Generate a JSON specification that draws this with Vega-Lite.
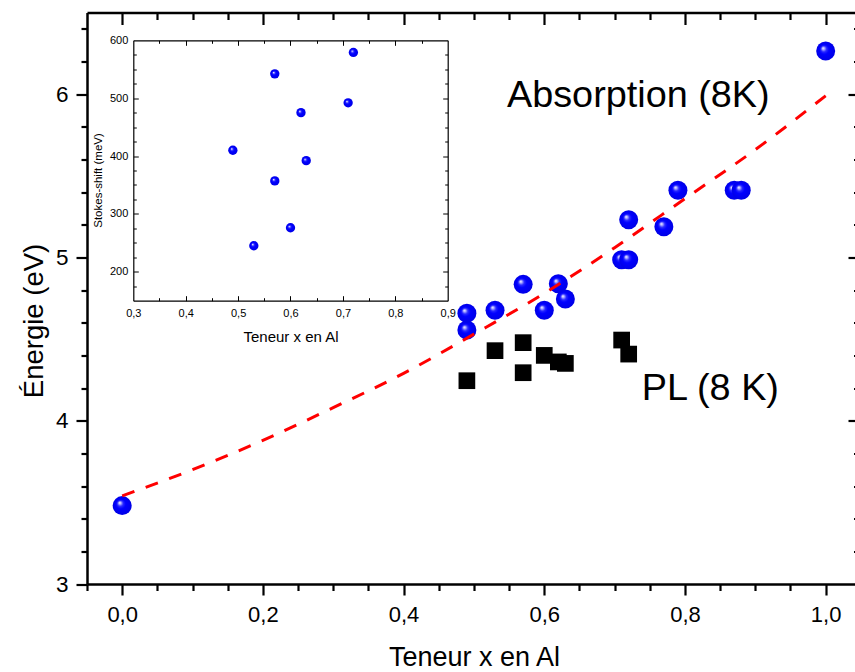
{
  "$schema": "https://vega.github.io/schema/vega-lite/v6.json",
  "width": 768,
  "height": 571.5,
  "autosize": {"type": "none"},
  "padding": {"left": 87, "top": 12.5, "right": 0, "bottom": 88},
  "background": "white",
  "config": {
    "view": {"stroke": null},
    "font": "Liberation Sans",
    "axis": {"grid": false, "labelColor": "black", "titleColor": "black", "titleFontWeight": "normal", "domainColor": "black", "tickColor": "black", "labelFont": "Liberation Sans", "titleFont": "Liberation Sans", "labelFlush": false, "labelOverlap": false},
    "text": {"font": "Liberation Sans"}
  },
  "datasets": {
    "curve": [
      {"x": 0, "E": 3.54}, {"x": 0.1, "E": 3.70}, {"x": 0.2, "E": 3.88}, {"x": 0.3, "E": 4.08},
      {"x": 0.4, "E": 4.29}, {"x": 0.5, "E": 4.53}, {"x": 0.6, "E": 4.78}, {"x": 0.7, "E": 5.06},
      {"x": 0.8, "E": 5.36}, {"x": 0.9, "E": 5.66}, {"x": 1.0, "E": 5.99}
    ],
    "absorption": [
      {"x": 0, "E": 3.48}, {"x": 0.49, "E": 4.555}, {"x": 0.49, "E": 4.658}, {"x": 0.53, "E": 4.676},
      {"x": 0.57, "E": 4.835}, {"x": 0.6, "E": 4.676}, {"x": 0.62, "E": 4.839}, {"x": 0.63, "E": 4.745},
      {"x": 0.71, "E": 4.986}, {"x": 0.72, "E": 4.986}, {"x": 0.72, "E": 5.231}, {"x": 0.77, "E": 5.188},
      {"x": 0.79, "E": 5.411}, {"x": 0.87, "E": 5.411}, {"x": 0.88, "E": 5.411}, {"x": 1.0, "E": 6.264}
    ],
    "pl": [
      {"x": 0.49, "E": 4.245}, {"x": 0.53, "E": 4.429}, {"x": 0.57, "E": 4.478}, {"x": 0.57, "E": 4.294},
      {"x": 0.6, "E": 4.40}, {"x": 0.62, "E": 4.36}, {"x": 0.63, "E": 4.351}, {"x": 0.71, "E": 4.494},
      {"x": 0.72, "E": 4.408}
    ],
    "stokes": [
      {"x": 0.49, "shift": 410}, {"x": 0.53, "shift": 245}, {"x": 0.57, "shift": 542}, {"x": 0.57, "shift": 357},
      {"x": 0.6, "shift": 276}, {"x": 0.62, "shift": 475}, {"x": 0.63, "shift": 392}, {"x": 0.71, "shift": 492},
      {"x": 0.72, "shift": 579}
    ],
    "annotations": [
      {"x": 0.547, "E": 5.92, "label": "Absorption (8K)"},
      {"x": 0.7385, "E": 4.127, "label": "PL (8 K)"}
    ]
  },
  "layer": [
    {
      "layer": [
        {
          "data": {"name": "absorption"},
          "mark": {"type": "point", "shape": "circle", "filled": true, "size": 361, "opacity": 1, "strokeWidth": 0,
            "fill": {"gradient": "radial", "x1": 0.36, "y1": 0.34, "r1": 0, "x2": 0.5, "y2": 0.5, "r2": 0.5,
              "stops": [{"offset": 0, "color": "#ffffff"}, {"offset": 0.12, "color": "#b8b8ff"}, {"offset": 0.3, "color": "#2a2aff"}, {"offset": 0.5, "color": "#0000ff"}, {"offset": 1, "color": "#0000e6"}]}},
          "encoding": {
            "x": {"field": "x", "type": "quantitative", "scale": {"domain": [-0.05, 1.0417], "nice": false, "zero": false}, "axis": null},
            "y": {"field": "E", "type": "quantitative", "scale": {"domain": [3, 6.5], "nice": false, "zero": false}, "axis": null}
          }
        },
        {
          "data": {"name": "pl"},
          "mark": {"type": "square", "size": 279, "color": "black", "opacity": 1},
          "encoding": {
            "x": {"field": "x", "type": "quantitative", "scale": {"domain": [-0.05, 1.0417], "nice": false, "zero": false}, "axis": null},
            "y": {"field": "E", "type": "quantitative", "scale": {"domain": [3, 6.5], "nice": false, "zero": false}, "axis": null}
          }
        },
        {
          "data": {"name": "curve"},
          "mark": {"type": "line", "color": "#ff0000", "strokeWidth": 3, "strokeDash": [13, 12], "interpolate": "monotone"},
          "encoding": {
            "x": {"field": "x", "type": "quantitative", "scale": {"domain": [-0.05, 1.0417], "nice": false, "zero": false}, "axis": null},
            "y": {"field": "E", "type": "quantitative", "scale": {"domain": [3, 6.5], "nice": false, "zero": false}, "axis": null}
          }
        },
        {
          "data": {"name": "annotations"},
          "mark": {"type": "text", "fontSize": 37.8, "color": "black", "align": "left", "baseline": "alphabetic"},
          "encoding": {
            "x": {"field": "x", "type": "quantitative", "scale": {"domain": [-0.05, 1.0417], "nice": false, "zero": false}, "axis": null},
            "y": {"field": "E", "type": "quantitative", "scale": {"domain": [3, 6.5], "nice": false, "zero": false}, "axis": null},
            "text": {"field": "label"}
          }
        },
        {
          "data": {"name": "curve"},
          "mark": {"type": "point", "opacity": 0},
          "encoding": {
            "x": {"field": "x", "type": "quantitative", "scale": {"domain": [-0.05, 1.0417], "nice": false, "zero": false},
              "axis": {"orient": "bottom", "values": [0, 0.2, 0.4, 0.6, 0.8, 1.0], "ticks": false, "domain": true, "domainWidth": 2.5,
                "labelExpr": "replace(format(datum.value, '.1f'), '.', ',')", "labelFontSize": 22, "labelPadding": 20,
                "title": "Teneur x en Al", "titleFontSize": 27, "titleX": 387, "titleY": 81, "titleBaseline": "alphabetic", "titleAlign": "center"}},
            "y": {"field": "E", "type": "quantitative", "scale": {"domain": [3, 6.5], "nice": false, "zero": false},
              "axis": {"orient": "left", "values": [3, 4, 5, 6], "ticks": false, "domain": true, "domainWidth": 2.5,
                "labelFontSize": 22.5, "labelPadding": 19,
                "title": "Énergie (eV)", "titleFontSize": 27.5, "titleX": -45, "titleY": 308, "titleAngle": 270, "titleBaseline": "alphabetic", "titleAlign": "center"}}
          }
        },
        {
          "data": {"name": "curve"},
          "mark": {"type": "point", "opacity": 0},
          "encoding": {
            "x": {"field": "x", "type": "quantitative", "scale": {"domain": [-0.05, 1.0417], "nice": false, "zero": false},
              "axis": {"orient": "bottom", "values": [0, 0.2, 0.4, 0.6, 0.8, 1.0], "ticks": true, "tickSize": 11, "tickWidth": 2.2, "domain": false, "labels": false, "title": null}},
            "y": {"field": "E", "type": "quantitative", "scale": {"domain": [3, 6.5], "nice": false, "zero": false},
              "axis": {"orient": "left", "values": [3, 4, 5, 6], "ticks": true, "tickSize": 11, "tickWidth": 2.2, "domain": false, "labels": false, "title": null}}
          }
        },
        {
          "data": {"name": "curve"},
          "mark": {"type": "point", "opacity": 0},
          "encoding": {
            "x": {"field": "x", "type": "quantitative", "scale": {"domain": [-0.05, 1.0417], "nice": false, "zero": false},
              "axis": {"orient": "bottom", "values": [-0.05, 0.05, 0.1, 0.15, 0.25, 0.3, 0.35, 0.45, 0.5, 0.55, 0.65, 0.7, 0.75, 0.85, 0.9, 0.95], "ticks": true, "tickSize": 6.5, "tickWidth": 2.2, "domain": false, "labels": false, "title": null}},
            "y": {"field": "E", "type": "quantitative", "scale": {"domain": [3, 6.5], "nice": false, "zero": false},
              "axis": {"orient": "left", "values": [3.2, 3.4, 3.6, 3.8, 4.2, 4.4, 4.6, 4.8, 5.2, 5.4, 5.6, 5.8, 6.2, 6.4], "ticks": true, "tickSize": 6, "tickWidth": 2.2, "domain": false, "labels": false, "title": null}}
          }
        },
        {
          "data": {"name": "curve"},
          "mark": {"type": "point", "opacity": 0},
          "encoding": {
            "x": {"field": "x", "type": "quantitative", "scale": {"domain": [-0.05, 1.0417], "nice": false, "zero": false},
              "axis": {"orient": "top", "values": [0, 0.2, 0.4, 0.6, 0.8, 1.0], "ticks": true, "tickSize": -12, "tickWidth": 2.2, "domain": true, "domainWidth": 2.5, "labels": false, "title": null}},
            "y": {"field": "E", "type": "quantitative", "scale": {"domain": [3, 6.5], "nice": false, "zero": false},
              "axis": {"orient": "right", "values": [4, 5, 6], "ticks": true, "tickSize": -7, "tickWidth": 2.2, "domain": false, "labels": false, "title": null}}
          }
        },
        {
          "data": {"name": "curve"},
          "mark": {"type": "point", "opacity": 0},
          "encoding": {
            "x": {"field": "x", "type": "quantitative", "scale": {"domain": [-0.05, 1.0417], "nice": false, "zero": false},
              "axis": {"orient": "top", "values": [0.05, 0.1, 0.15, 0.25, 0.3, 0.35, 0.45, 0.5, 0.55, 0.65, 0.7, 0.75, 0.85, 0.9, 0.95], "ticks": true, "tickSize": -7, "tickWidth": 2.2, "domain": false, "labels": false, "title": null}},
            "y": {"field": "E", "type": "quantitative", "scale": {"domain": [3, 6.5], "nice": false, "zero": false},
              "axis": {"orient": "right", "values": [3.2, 3.4, 3.6, 3.8, 4.2, 4.4, 4.6, 4.8, 5.2, 5.4, 5.6, 5.8, 6.2, 6.4], "ticks": true, "tickSize": -1.5, "tickWidth": 2.2, "domain": false, "labels": false, "title": null}}
          }
        }
      ],
      "resolve": {"axis": {"x": "independent", "y": "independent"}}
    },
    {
      "layer": [
        {
          "data": {"name": "stokes"},
          "mark": {"type": "point", "shape": "circle", "filled": true, "size": 87, "opacity": 1, "strokeWidth": 0,
            "fill": {"gradient": "radial", "x1": 0.36, "y1": 0.34, "r1": 0, "x2": 0.5, "y2": 0.5, "r2": 0.5,
              "stops": [{"offset": 0, "color": "#ffffff"}, {"offset": 0.12, "color": "#b8b8ff"}, {"offset": 0.3, "color": "#2a2aff"}, {"offset": 0.5, "color": "#0000ff"}, {"offset": 1, "color": "#0000e6"}]}},
          "encoding": {
            "x": {"field": "x", "type": "quantitative", "scale": {"domain": [0.3, 0.9], "range": [46.3, 360.7], "nice": false, "zero": false}, "axis": null},
            "y": {"field": "shift", "type": "quantitative", "scale": {"domain": [150, 600], "range": [288.2, 27.8], "nice": false, "zero": false}, "axis": null}
          }
        },
        {
          "data": {"name": "stokes"},
          "mark": {"type": "point", "opacity": 0},
          "encoding": {
            "x": {"field": "x", "type": "quantitative", "scale": {"domain": [0.3, 0.9], "range": [46.3, 360.7], "nice": false, "zero": false},
              "axis": {"orient": "bottom", "offset": -283.3, "values": [0.3, 0.4, 0.5, 0.6, 0.7, 0.8, 0.9], "ticks": false, "domain": true, "domainWidth": 1.2,
                "labelExpr": "replace(format(datum.value, '.1f'), '.', ',')", "labelFontSize": 11, "labelPadding": 6.6,
                "title": "Teneur x en Al", "titleFontSize": 15, "titleX": 203.5, "titleY": 41, "titleBaseline": "alphabetic", "titleAlign": "center"}},
            "y": {"field": "shift", "type": "quantitative", "scale": {"domain": [150, 600], "range": [288.2, 27.8], "nice": false, "zero": false},
              "axis": {"orient": "left", "offset": -46.3, "values": [200, 300, 400, 500, 600], "ticks": false, "domain": true, "domainWidth": 1.2,
                "format": "d", "labelFontSize": 11, "labelPadding": 5.5,
                "title": "Stokes-shift (meV)", "titleFontSize": 11.5, "titleX": -31.8, "titleY": 167.5, "titleAngle": 270, "titleBaseline": "alphabetic", "titleAlign": "center"}}
          }
        },
        {
          "data": {"name": "stokes"},
          "mark": {"type": "point", "opacity": 0},
          "encoding": {
            "x": {"field": "x", "type": "quantitative", "scale": {"domain": [0.3, 0.9], "range": [46.3, 360.7], "nice": false, "zero": false},
              "axis": {"orient": "bottom", "offset": -283.3, "values": [0.4, 0.5, 0.6, 0.7, 0.8], "ticks": true, "tickSize": -5, "tickWidth": 1, "domain": false, "labels": false, "title": null}},
            "y": {"field": "shift", "type": "quantitative", "scale": {"domain": [150, 600], "range": [288.2, 27.8], "nice": false, "zero": false},
              "axis": {"orient": "left", "offset": -46.3, "values": [200, 300, 400, 500], "ticks": true, "tickSize": -5, "tickWidth": 1, "domain": false, "labels": false, "title": null}}
          }
        },
        {
          "data": {"name": "stokes"},
          "mark": {"type": "point", "opacity": 0},
          "encoding": {
            "x": {"field": "x", "type": "quantitative", "scale": {"domain": [0.3, 0.9], "range": [46.3, 360.7], "nice": false, "zero": false},
              "axis": {"orient": "bottom", "offset": -283.3, "values": [0.35, 0.45, 0.55, 0.65, 0.75, 0.85], "ticks": true, "tickSize": -3, "tickWidth": 1, "domain": false, "labels": false, "title": null}},
            "y": {"field": "shift", "type": "quantitative", "scale": {"domain": [150, 600], "range": [288.2, 27.8], "nice": false, "zero": false},
              "axis": {"orient": "left", "offset": -46.3, "values": [175, 225, 250, 275, 325, 350, 375, 425, 450, 475, 525, 550, 575], "ticks": true, "tickSize": -3, "tickWidth": 1, "domain": false, "labels": false, "title": null}}
          }
        },
        {
          "data": {"name": "stokes"},
          "mark": {"type": "point", "opacity": 0},
          "encoding": {
            "x": {"field": "x", "type": "quantitative", "scale": {"domain": [0.3, 0.9], "range": [46.3, 360.7], "nice": false, "zero": false},
              "axis": {"orient": "top", "offset": -27.8, "values": [0.4, 0.5, 0.6, 0.7, 0.8], "ticks": true, "tickSize": -5, "tickWidth": 1, "domain": true, "domainWidth": 1.2, "labels": false, "title": null}},
            "y": {"field": "shift", "type": "quantitative", "scale": {"domain": [150, 600], "range": [288.2, 27.8], "nice": false, "zero": false},
              "axis": {"orient": "right", "offset": -407.3, "values": [200, 300, 400, 500], "ticks": true, "tickSize": -5, "tickWidth": 1, "domain": true, "domainWidth": 1.2, "labels": false, "title": null}}
          }
        },
        {
          "data": {"name": "stokes"},
          "mark": {"type": "point", "opacity": 0},
          "encoding": {
            "x": {"field": "x", "type": "quantitative", "scale": {"domain": [0.3, 0.9], "range": [46.3, 360.7], "nice": false, "zero": false},
              "axis": {"orient": "top", "offset": -27.8, "values": [0.35, 0.45, 0.55, 0.65, 0.75, 0.85], "ticks": true, "tickSize": -3, "tickWidth": 1, "domain": false, "labels": false, "title": null}},
            "y": {"field": "shift", "type": "quantitative", "scale": {"domain": [150, 600], "range": [288.2, 27.8], "nice": false, "zero": false},
              "axis": {"orient": "right", "offset": -407.3, "values": [175, 225, 250, 275, 325, 350, 375, 425, 450, 475, 525, 550, 575], "ticks": true, "tickSize": -3, "tickWidth": 1, "domain": false, "labels": false, "title": null}}
          }
        }
      ],
      "resolve": {"axis": {"x": "independent", "y": "independent"}}
    }
  ],
  "resolve": {"scale": {"x": "independent", "y": "independent"}, "axis": {"x": "independent", "y": "independent"}}
}
